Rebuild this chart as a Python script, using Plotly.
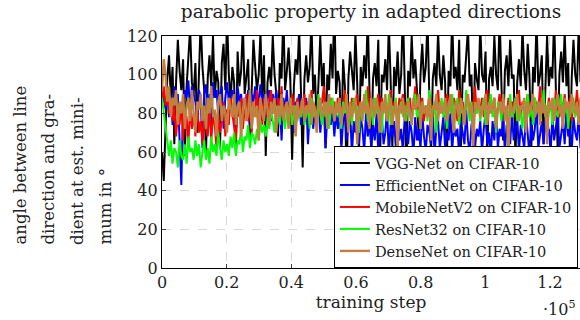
import numpy as np
import plotly.graph_objects as go

# angle (degrees) between line direction and gradient at the estimated minimum,
# one value per logged training step
vgg = [60, 45, 72, 98, 110, 88, 104, 64, 96, 118, 102, 92, 108, 58, 94, 112, 124, 96, 90, 106,
       70, 100, 128, 104, 92, 58, 98, 110, 94, 120, 88, 102, 96, 62, 106, 116, 92, 130, 100, 86,
       104, 96, 60, 112, 94, 102, 126, 90, 98, 108, 66, 96, 118, 104, 92, 100, 122, 88, 110, 58,
       96, 104, 94, 120, 100, 90, 68, 106, 98, 132, 92, 102, 114, 96, 56, 94, 108, 100, 124, 92,
       52, 98, 110, 96, 104, 128, 90, 100, 74, 96, 120, 94, 106, 62, 100, 92, 116, 98, 136, 90,
       102, 96, 64, 108, 94, 40, 98, 112, 100, 92, 122, 96, 58, 104, 94, 110, 98, 130, 92, 60,
       98, 106, 94, 118, 56, 100, 96, 108, 92, 126, 98, 62, 104, 94, 112, 90, 100, 134, 96, 48,
       102, 94, 120, 98, 108, 92, 66, 100, 116, 96, 104, 128, 90, 58, 98, 106, 94, 122, 100, 92,
       110, 96, 54, 102, 94, 130, 98, 104, 92, 118, 62, 100, 96, 108, 124, 94, 100, 60, 106, 98,
       92, 126, 100, 96, 112, 58, 98, 104, 94, 120, 100, 92, 132, 96, 66, 102, 110, 94, 118, 98,
       100, 56, 96, 108, 94, 124, 102, 92, 116, 98, 60, 104, 96, 128, 94, 100, 110, 64, 98, 120,
       94, 104, 98, 130, 92, 62, 100, 112, 96, 122, 94, 106, 58, 98, 118, 100, 94, 126, 96, 104]
efficientnet = [84, 90, 82, 92, 78, 88, 74, 94, 86, 90, 66, 43, 84, 92, 88, 97, 80, 94, 90, 86,
                76, 92, 88, 62, 90, 95, 84, 90, 74, 96, 88, 92, 80, 90, 94, 72, 88, 96, 86, 90,
                92, 86, 70, 94, 86, 90, 78, 88, 84, 92, 74, 90, 86, 94, 80, 88, 95, 84, 90, 78,
                88, 92, 76, 90, 84, 92, 80, 86, 66, 88, 82, 92, 78, 88, 84, 70, 86, 82, 90, 74,
                84, 78, 88, 64, 80, 86, 72, 82, 76, 88, 70, 80, 84, 62, 78, 86, 74, 82, 68, 80,
                72, 84, 62, 76, 80, 66, 74, 82, 58, 76, 70, 84, 64, 78, 72, 60, 80, 68, 76, 62,
                74, 66, 80, 60, 72, 78, 64, 70, 82, 58, 74, 68, 76, 62, 80, 66, 72, 60, 78, 70,
                64, 76, 70, 58, 78, 66, 72, 62, 80, 68, 60, 74, 70, 64, 82, 58, 72, 76, 62, 70,
                78, 62, 70, 66, 80, 60, 74, 68, 72, 58, 76, 70, 64, 82, 66, 60, 74, 78, 62, 72,
                68, 76, 60, 72, 80, 64, 70, 58, 76, 66, 82, 62, 72, 68, 78, 60, 74, 70, 64, 80,
                66, 72, 78, 60, 74, 68, 62, 80, 70, 58, 76, 66, 72, 84, 62, 70, 76, 64, 78, 68,
                72, 60, 78, 66, 74, 80, 62, 70, 76, 64, 82, 68, 72, 60, 78, 70, 66, 80, 62, 74]
mobilenet = [86, 94, 84, 90, 80, 88, 76, 84, 68, 80, 74, 86, 66, 82, 78, 64, 84, 72, 80, 68,
             86, 70, 76, 64, 82, 72, 68, 84, 66, 78, 74, 62, 80, 70, 76, 86, 68, 82, 74, 88,
             80, 74, 66, 84, 78, 88, 72, 82, 90, 76, 84, 70, 86, 80, 92, 78, 84, 74, 88, 82,
             78, 86, 92, 80, 84, 76, 88, 82, 94, 78, 84, 86, 80, 76, 90, 84, 82, 88, 78, 86,
             84, 90, 78, 86, 82, 92, 80, 84, 76, 88, 82, 86, 94, 80, 84, 78, 88, 82, 86, 80,
             88, 82, 78, 86, 92, 80, 84, 76, 88, 82, 86, 90, 78, 84, 82, 88, 80, 94, 84, 78,
             86, 80, 84, 90, 78, 88, 82, 86, 76, 84, 92, 80, 86, 82, 78, 88, 84, 90, 80, 86,
             82, 88, 78, 84, 94, 80, 86, 82, 88, 76, 84, 80, 90, 86, 78, 84, 82, 92, 80, 86,
             84, 78, 90, 82, 86, 80, 88, 84, 76, 92, 82, 86, 80, 84, 88, 78, 86, 82, 94, 80,
             86, 82, 88, 78, 84, 92, 80, 86, 82, 88, 76, 84, 90, 80, 86, 82, 78, 88, 84, 86,
             80, 88, 84, 92, 78, 86, 82, 84, 90, 80, 86, 76, 88, 84, 82, 94, 80, 86, 84, 78,
             88, 82, 86, 80, 92, 84, 78, 86, 82, 90, 80, 84, 88, 76, 86, 82, 92, 80, 84, 86]
resnet = [88, 80, 72, 64, 58, 66, 54, 62, 60, 52, 66, 58, 56, 64, 54, 68, 60, 62, 56, 66,
          58, 64, 52, 60, 66, 56, 62, 54, 68, 60, 64, 58, 70, 62, 56, 66, 60, 64, 58, 68,
          62, 70, 58, 66, 64, 72, 60, 68, 66, 74, 62, 70, 68, 64, 72, 66, 76, 70, 74, 68,
          78, 72, 82, 76, 70, 84, 78, 74, 86, 80, 72, 82, 78, 88, 74, 80, 84, 76, 82, 78,
          86, 74, 80, 84, 72, 88, 78, 82, 76, 90, 80, 74, 84, 78, 86, 72, 82, 88, 76, 80,
          84, 78, 72, 86, 80, 90, 76, 82, 74, 88, 80, 84, 70, 86, 78, 82, 92, 76, 80, 84,
          74, 88, 80, 84, 76, 70, 86, 82, 78, 90, 74, 84, 80, 88, 72, 82, 86, 78, 84, 76,
          88, 80, 74, 84, 90, 78, 82, 72, 86, 80, 84, 76, 92, 78, 82, 86, 70, 84, 80, 88,
          78, 84, 72, 86, 80, 90, 76, 82, 88, 74, 84, 80, 78, 92, 82, 76, 86, 72, 84, 80,
          86, 76, 82, 88, 74, 84, 80, 90, 78, 82, 70, 86, 84, 76, 88, 80, 82, 74, 90, 78,
          82, 88, 76, 84, 80, 72, 86, 82, 90, 78, 84, 74, 88, 80, 86, 76, 82, 92, 78, 84,
          80, 86, 74, 88, 82, 78, 84, 90, 76, 82, 86, 72, 84, 80, 88, 78, 82, 76, 86, 80]
densenet = [92, 108, 100, 86, 94, 78, 88, 84, 92, 74, 86, 80, 90, 72, 84, 88, 76, 92, 80, 70,
            86, 82, 90, 76, 84, 72, 88, 80, 94, 78, 82, 68, 86, 90, 76, 84, 80, 70, 88, 82,
            78, 90, 74, 84, 86, 68, 82, 88, 76, 80, 92, 72, 86, 78, 84, 66, 88, 80, 76, 90,
            82, 74, 86, 80, 88, 70, 84, 78, 90, 76, 82, 86, 72, 88, 80, 84, 68, 86, 78, 82,
            88, 76, 84, 80, 90, 74, 86, 82, 70, 84, 88, 78, 82, 86, 72, 90, 80, 84, 76, 86,
            80, 88, 74, 84, 82, 90, 70, 86, 78, 84, 88, 64, 82, 86, 76, 90, 80, 84, 72, 88,
            84, 78, 88, 82, 70, 86, 80, 90, 76, 84, 88, 74, 82, 86, 60, 84, 80, 88, 76, 82,
            86, 80, 74, 88, 82, 84, 90, 72, 86, 80, 84, 78, 88, 66, 84, 82, 90, 76, 86, 80,
            82, 88, 76, 84, 90, 80, 70, 86, 84, 78, 88, 82, 74, 86, 90, 80, 84, 62, 86, 82,
            88, 78, 84, 82, 90, 74, 86, 80, 84, 88, 72, 82, 86, 80, 90, 76, 84, 58, 86, 82,
            80, 86, 90, 76, 84, 82, 88, 70, 86, 80, 84, 90, 78, 82, 86, 74, 88, 80, 84, 64,
            86, 82, 88, 76, 84, 90, 80, 84, 72, 88, 82, 86, 78, 90, 84, 80, 86, 74, 88, 82]

names = ["VGG-Net on CIFAR-10", "EfficientNet on CIFAR-10", "MobileNetV2 on CIFAR-10",
         "ResNet32 on CIFAR-10", "DenseNet on CIFAR-10"]
colors = ["#000000", "#0000ff", "#ff0000", "#00ff00", "#bf8040"]
widths = [2, 2, 2, 2, 2.4]
series = [vgg, efficientnet, mobilenet, resnet, densenet]
last_step = 130000

FONT = "DejaVu Serif"
W, H = 580, 320
L, R, T, B = 162, 0, 36, 52
plot_w, plot_h = W - L - R, H - T - B

fig = go.Figure()
for name, color, lw, vals in zip(names, colors, widths, series):
    steps = np.linspace(0, last_step, len(vals))
    fig.add_trace(go.Scatter(x=steps, y=vals, mode="lines", name=name,
                             line=dict(color=color, width=lw)))

fig.update_layout(
    width=W, height=H,
    margin=dict(l=L, r=R, t=T, b=B),
    plot_bgcolor="white", paper_bgcolor="white",
    font=dict(family=FONT, size=16, color="#222"),
    title=dict(text="parabolic property in adapted directions", x=(L + plot_w / 2) / W,
               xanchor="center", y=0.985, yanchor="top", font=dict(size=18.5)),
    legend=dict(x=0.995, xanchor="right", y=0, yanchor="bottom",
                bgcolor="white", bordercolor="black", borderwidth=1,
                font=dict(size=14.6), tracegroupgap=0, itemwidth=30),
    showlegend=True,
)
fig.update_xaxes(
    range=[0, 129300], tickvals=[0, 20000, 40000, 60000, 80000, 100000, 120000],
    ticktext=["0", "0.2", "0.4", "0.6", "0.8", "1", "1.2"],
    showgrid=True, gridcolor="#d8d8d8", griddash="dash", gridwidth=1,
    showline=True, linecolor="black", linewidth=1.3, mirror=True,
    ticks="inside", ticklen=4, tickcolor="#444",
    zeroline=False, title=dict(text="training step", standoff=2, font=dict(size=17)),
)
fig.update_yaxes(
    range=[0, 120], tickvals=[0, 20, 40, 60, 80, 100, 120],
    showgrid=True, gridcolor="#d8d8d8", griddash="dash", gridwidth=1,
    showline=True, linecolor="black", linewidth=1.3, mirror=True,
    ticks="inside", ticklen=4, tickcolor="#444", zeroline=False,
)

# wrapped y-axis label, one rotated line per annotation
ylabel_lines = ["angle between line", "direction and gra-", "dient at est. mini-", "mum in °"]
line_x_px = [20, 48, 77, 105]
for text, px in zip(ylabel_lines, line_x_px):
    fig.add_annotation(text=text, xref="paper", yref="paper",
                       x=(px - L) / plot_w, y=(H - B - 247) / plot_h,
                       xanchor="center", yanchor="bottom", textangle=-90,
                       showarrow=False, font=dict(size=16.5))

fig.add_annotation(text="·10<sup>5</sup>", xref="paper", yref="paper", x=0.995, y=-0.12,
                   xanchor="right", yanchor="top", showarrow=False, font=dict(size=16))

fig.write_html("out.html")
